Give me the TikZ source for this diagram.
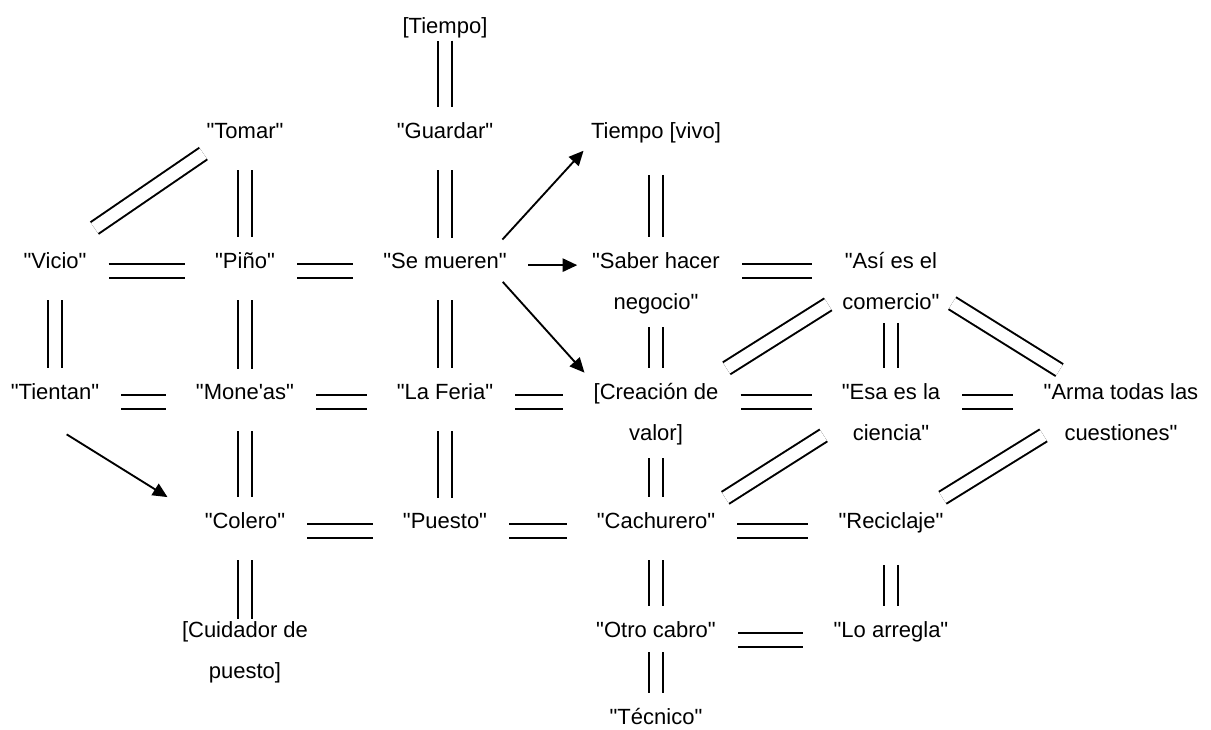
\documentclass[tikz,border=0pt]{standalone}
\usepackage{fontspec}
\newfontfamily\lblfont{Liberation Sans}
\usetikzlibrary{arrows.meta,backgrounds}

\newcommand\lbltwo[2]{\vtop{\halign{\hfil##\hfil\cr#1\cr#2\cr}}}

\tikzset{
  lbl/.style={font=\lblfont\fontsize{16.5}{30.75}\selectfont,
    inner sep=0pt, anchor=base},
  dbl/.style={double, double distance=9pt, line width=1.5pt},
  hbar/.style={dbl, shorten <=16.5pt, shorten >=22.5pt,
    transform canvas={yshift=-2pt}},
  vbar/.style={dbl, shorten <=24pt, shorten >=11pt},
  arr/.style={line width=1.4pt, -{Triangle[length=11pt,width=10pt]}}
}

\begin{document}
\begin{tikzpicture}[x=.75pt, y=-.75pt]

\useasboundingbox (0,0) rectangle (1211,729);

\node[lbl] (tiempo) at (445,33) {[Tiempo]};

\node[lbl] (tomar) at (245,138) {"Tomar"};
\node[lbl] (guardar) at (445,138) {"Guardar"};
\node[lbl] (tiempovivo) at (656,138) {Tiempo [vivo]};

\node[lbl] (vicio) at (55,268) {"Vicio"};
\node[lbl] (pino) at (245,268) {"Piño"};
\node[lbl] (semueren) at (445,268) {"Se mueren"};
\node[lbl] (saber) at (656,268) {\lbltwo{"Saber hacer}{negocio"}};
\node[lbl] (asi) at (891,268) {\lbltwo{"Así es el}{comercio"}};

\node[lbl] (tientan) at (55,399) {"Tientan"};
\node[lbl] (moneas) at (245,399) {"Mone'as"};
\node[lbl] (feria) at (445,399) {"La Feria"};
\node[lbl] (creacion) at (656,399) {\lbltwo{[Creación de}{valor]}};
\node[lbl] (esa) at (891,399) {\lbltwo{"Esa es la}{ciencia"}};
\node[lbl] (arma) at (1121,399) {\lbltwo{"Arma todas las}{cuestiones"}};

\node[lbl] (colero) at (245,528) {"Colero"};
\node[lbl] (puesto) at (445,528) {"Puesto"};
\node[lbl] (cachurero) at (656,528) {"Cachurero"};
\node[lbl] (reciclaje) at (891,528) {"Reciclaje"};

\node[lbl] (cuidador) at (245,637) {\lbltwo{[Cuidador de}{puesto]}};
\node[lbl] (otro) at (656,637) {"Otro cabro"};
\node[lbl] (arregla) at (891,637) {"Lo arregla"};

\node[lbl] (tecnico) at (656,724) {"Técnico"};

\begin{scope}[on background layer]
\draw[hbar] (vicio.base east) -- (pino.base west);
\draw[hbar] (pino.base east) -- (semueren.base west);
\draw[hbar] (saber.base east) -- (asi.base west);
\draw[hbar] (tientan.base east) -- (moneas.base west);
\draw[hbar] (moneas.base east) -- (feria.base west);
\draw[hbar] (feria.base east) -- (creacion.base west);
\draw[hbar] (creacion.base east) -- (esa.base west);
\draw[hbar] (esa.base east) -- (arma.base west);
\draw[hbar] (colero.base east) -- (puesto.base west);
\draw[hbar] (puesto.base east) -- (cachurero.base west);
\draw[hbar] (cachurero.base east) -- (reciclaje.base west);
\draw[hbar] (otro.base east) -- (arregla.base west);

\draw[vbar, shorten <=2pt] (tiempo.south) -- (guardar.north);
\draw[vbar] (guardar.south) -- (semueren.north);
\draw[vbar] (tomar.south) -- (pino.north);
\draw[vbar] (tiempovivo.south) -- (saber.north);
\draw[vbar] (vicio.south) -- (tientan.north);
\draw[vbar] (pino.south) -- (moneas.north);
\draw[vbar] (semueren.south) -- (feria.north);
\draw[vbar, shorten <=10pt] (saber.south) -- (creacion.north);
\draw[vbar, shorten <=10pt] (asi.south) -- (esa.north);
\draw[vbar] (moneas.south) -- (colero.north);
\draw[vbar] (feria.south) -- (puesto.north);
\draw[vbar, shorten <=10pt] (creacion.south) -- (cachurero.north);
\draw[vbar, shorten >=1pt] (colero.south) -- (cuidador.north);
\draw[vbar] (cachurero.south) -- (otro.north);
\draw[vbar] (reciclaje.south) -- (arregla.north);
\draw[vbar, shorten <=11pt] (otro.south) -- (tecnico.north);

\draw[dbl, shorten <=31.5pt, shorten >=20pt] (vicio.60) -- (tomar.202);
\draw[dbl, shorten <=20pt, shorten >=12.5pt] (creacion.33) -- (asi.197);
\draw[dbl, shorten <=11pt, shorten >=18pt] (asi.-17) -- (arma.145);
\draw[dbl, shorten <=19.5pt, shorten >=16pt] (cachurero.10) -- (esa.194);
\draw[dbl, shorten <=20pt] (reciclaje.20) -- (arma.197);

\draw[arr, shorten <=13pt, shorten >=8pt] (semueren.10) -- (tiempovivo.south west);
\draw[arr, shorten <=16pt, shorten >=11pt] (semueren.mid east) -- (saber.mid west);
\draw[arr, shorten <=13.5pt, shorten >=10pt] (semueren.-10) -- (creacion.north west);
\draw[arr, shorten <=49.5pt, shorten >=32.7pt] (tientan.south west) -- (colero.west);
\end{scope}

\end{tikzpicture}
\end{document}
